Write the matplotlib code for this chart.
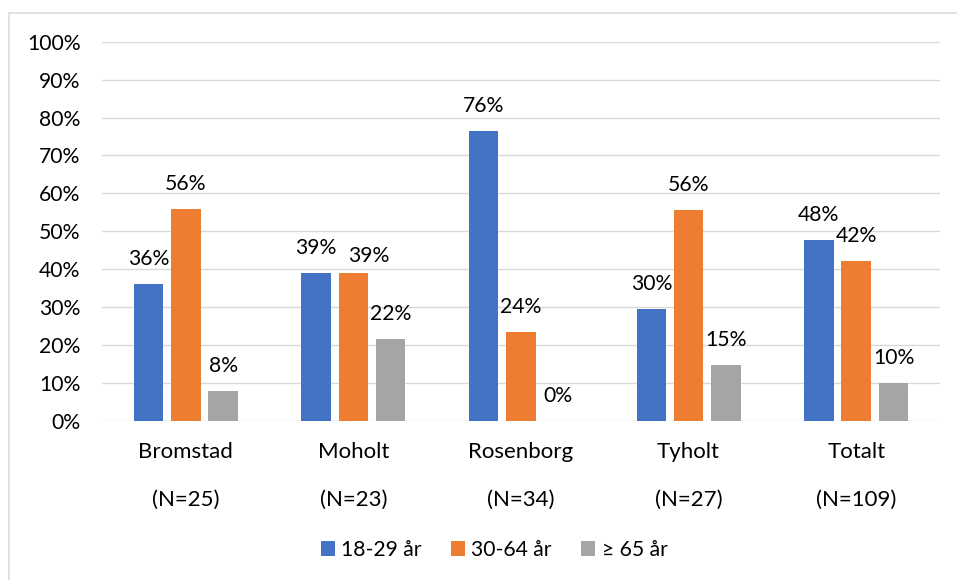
import matplotlib
matplotlib.use("Agg")
import matplotlib.pyplot as plt
from matplotlib.patches import Rectangle
import numpy as np

categories = ["Bromstad", "Moholt", "Rosenborg", "Tyholt", "Totalt"]
n_labels = ["(N=25)", "(N=23)", "(N=34)", "(N=27)", "(N=109)"]
series_names = ["18-29 år", "30-64 år", "≥ 65 år"]
age_18_29 = [36.0, 39.1, 76.5, 29.6, 47.7]
age_30_64 = [56.0, 39.1, 23.5, 55.6, 42.2]
age_65_plus = [8.0, 21.7, 0.0, 14.8, 10.1]
yticks = [0, 10, 20, 30, 40, 50, 60, 70, 80, 90, 100]

colors = ["#4472C4", "#ED7D31", "#A5A5A5"]
FS = 15.2
FS_CAT = 16.0
plt.rcParams['font.family'] = ['Lato', 'DejaVu Sans']

W, H = 957, 580
fig = plt.figure(figsize=(W / 100, H / 100), dpi=100)
ax = fig.add_axes([102 / W, 1 - 421 / H, (940 - 102) / W, (421 - 41.7) / H])

# outer chart border (light grey)
fig.patches.append(Rectangle((8.5 / W, -0.1), 1.2, 1 - 12.5 / H + 0.1,
                             transform=fig.transFigure, fill=False,
                             edgecolor="#D9D9D9", linewidth=1.1, zorder=0))

x = np.arange(len(categories))
step = 0.2225
width = 0.176
series = [age_18_29, age_30_64, age_65_plus]
for i, (vals, name, c) in enumerate(zip(series, series_names, colors)):
    xs = x + (i - 1) * step
    ax.bar(xs, vals, width=width, color=c, label=name, zorder=3)
    for j, (xx, v) in enumerate(zip(xs, vals)):
        dx, dy = 0, 13.7
        if i == 1 and j == 1:
            dx, dy = 11.3, 7.7
        ax.annotate(f"{v:.0f}%", (xx, v), xytext=(dx, dy), textcoords="offset points",
                    ha="center", va="baseline", fontsize=FS, color="#000000")

ax.set_xlim(-0.5, len(categories) - 0.5)
ax.set_ylim(0, 100)
ax.set_yticks(yticks)
ax.set_yticklabels([f"{t}%" for t in yticks], fontsize=FS)
ax.set_xticks(x)
ax.set_xticklabels([f"{c}\n{n}" for c, n in zip(categories, n_labels)],
                   fontsize=FS_CAT, linespacing=2.78)
ax.tick_params(axis="both", length=0)
ax.tick_params(axis="y", pad=15.5)
ax.tick_params(axis="x", pad=15)
ax.yaxis.grid(True, color="#D9D9D9", linewidth=1.0, zorder=0)
ax.set_axisbelow(True)
for s in ax.spines.values():
    s.set_visible(False)

fig.legend(loc="center", bbox_to_anchor=(494 / W, 1 - 550 / H), ncol=3,
           frameon=False, fontsize=FS, handlelength=0.66, handleheight=0.66,
           handletextpad=0.3, columnspacing=1.4)

fig.savefig("out.png", dpi=100)
